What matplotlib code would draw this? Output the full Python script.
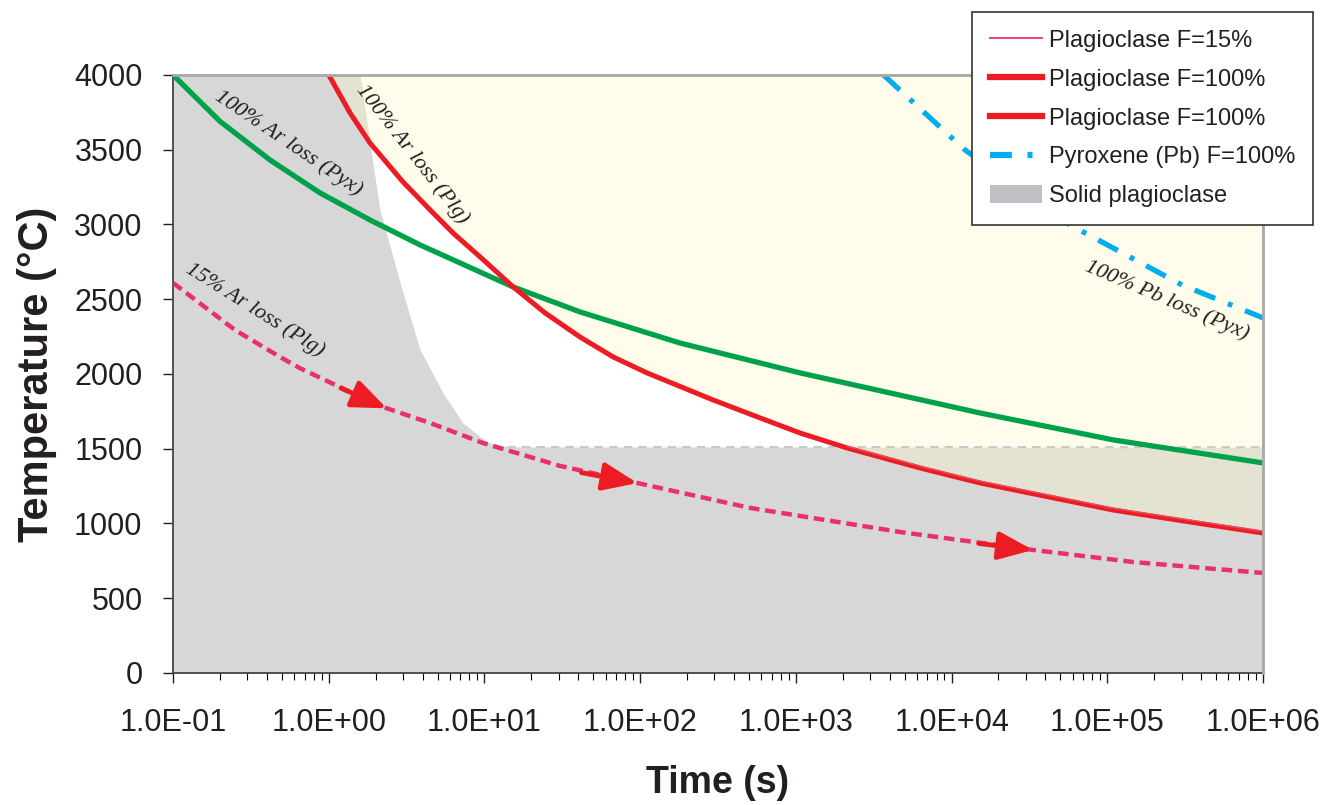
import matplotlib
matplotlib.use("Agg")
import matplotlib.pyplot as plt
from matplotlib.lines import Line2D
from matplotlib.patches import Patch

# --- data (time in s, temperature in deg C) ---
pyx_ar_t = [0.1, 0.2, 0.42, 0.879, 1.84, 3.86, 9.37, 15.3, 41.1, 180, 1064, 15240, 1.09e5, 1e6]
pyx_ar_T = [4000, 3690, 3431, 3211, 3030, 2863, 2682, 2582, 2415, 2207, 2007, 1739, 1559, 1405]

plg100_t = [1.0, 1.07, 1.37, 1.84, 3.0, 4.48, 6.28, 9.37, 15.3, 24.5, 41.1, 67, 110.6, 294,
            589, 1064, 2133, 6280, 15240, 1.09e5, 3.4e5, 1e6]
plg100_T = [4000, 3946, 3746, 3545, 3284, 3097, 2943, 2783, 2582, 2408, 2247, 2114, 2007, 1826,
            1706, 1605, 1505, 1371, 1271, 1090, 1010, 936]

plg15_t = [2133, 6280, 15240, 1.09e5, 3.4e5, 1e6]
plg15_T = [1517, 1383, 1283, 1102, 1022, 948]

plg15_ar_t = [0.1, 0.25, 0.486, 0.65, 1.37, 2.23, 4.48, 9.8, 30.6, 95.5, 508, 4670, 33300, 1.47e5, 1e6]
plg15_ar_T = [2609, 2294, 2114, 2040, 1880, 1779, 1672, 1538, 1385, 1271, 1104, 943, 823, 742, 669]

pyx_pb_t = [3650, 1.22e4, 5.77e4, 3.02e5, 1e6]
pyx_pb_T = [4000, 3498, 2997, 2595, 2375]

solid_t = [0.1, 1.59, 1.84, 2.13, 3.0, 3.86, 5.42, 7.28, 10.4, 14, 1e6]
solid_T = [4000, 4000, 3545, 3097, 2542, 2161, 1873, 1672, 1545, 1512, 1510]

arrow_tail_t = [1.2, 42, 1.5e4]
arrow_tail_T = [1905, 1340, 866]
arrow_tip_t = [2.36, 96, 3.33e4]
arrow_tip_T = [1770, 1270, 823]

xticks = [1e-1, 1e0, 1e1, 1e2, 1e3, 1e4, 1e5, 1e6]
xticklabels = ["1.0E-01", "1.0E+00", "1.0E+01", "1.0E+02", "1.0E+03", "1.0E+04", "1.0E+05", "1.0E+06"]
yticks = [0, 500, 1000, 1500, 2000, 2500, 3000, 3500, 4000]

GREEN = "#00A14B"
RED = "#ED1C24"
PINK = "#E8306A"
CYAN = "#00AEEF"
GREY = "#D7D7D7"

plt.rcParams["font.family"] = ["Liberation Sans", "DejaVu Sans"]

fig = plt.figure(figsize=(13.27, 8.05), dpi=100)
ax = fig.add_axes([0.1304, 0.164, 0.8214, 0.7429])

ax.fill_between(solid_t, 0, solid_T, color=GREY, lw=0, zorder=1)
ax.fill_between(plg100_t, plg100_T, 4000, color="#FFF7C8", alpha=0.35, lw=0, zorder=2)
ax.plot(solid_t[-2:], solid_T[-2:], color="#C8C8CC", lw=1.5, ls=(0, (4, 3)), zorder=2)

ax.plot(pyx_ar_t, pyx_ar_T, color=GREEN, lw=3.8, zorder=4, solid_joinstyle="round")
ax.plot(plg100_t, plg100_T, color=RED, lw=3.6, zorder=4, solid_joinstyle="round")
ax.plot(plg15_t, plg15_T, color="#E35060", lw=1.0, zorder=5)
ax.plot(plg15_ar_t, plg15_ar_T, color=PINK, lw=3.2, dashes=(2.4, 1.3), zorder=4)
ax.plot(pyx_pb_t, pyx_pb_T, color=CYAN, lw=3.8, dashes=(4.2, 2.6, 0.9, 2.6), zorder=4)

for t0, T0, t1, T1 in zip(arrow_tail_t, arrow_tail_T, arrow_tip_t, arrow_tip_T):
    ax.annotate("", xy=(t1, T1), xytext=(t0, T0), zorder=6,
                arrowprops=dict(arrowstyle="-|>,head_length=2.1,head_width=0.85",
                                color=RED, lw=3.5, shrinkA=0, shrinkB=0))

tkw = dict(family=["Liberation Serif", "DejaVu Serif"], style="italic", fontsize=16,
           color="#231F20", ha="center", va="center", rotation_mode="anchor", zorder=7)
ax.text(0.548, 3545, "100% Ar loss (Pyx)", rotation=-34, **tkw)
ax.text(3.43, 3472, "100% Ar loss (Plg)", rotation=-52, **tkw)
ax.text(0.336, 2428, "15% Ar loss (Plg)", rotation=-32, **tkw)
ax.text(2.42e5, 2495, "100% Pb loss (Pyx)", rotation=-23, **tkw)

ax.set_xscale("log")
ax.set_xlim(1e-1, 1e6)
ax.set_ylim(0, 4000)
ax.set_xticks(xticks)
ax.set_xticklabels(xticklabels)
ax.set_yticks(yticks)
ax.tick_params(axis="both", which="major", direction="out", length=7, width=1,
               labelsize=22, colors="#231F20")
ax.tick_params(axis="x", which="minor", direction="out", length=5, width=0.8)
ax.tick_params(axis="x", which="major", pad=18)
ax.tick_params(axis="y", which="major", pad=15)

for s in ["left", "bottom"]:
    ax.spines[s].set_color("#444444")
    ax.spines[s].set_linewidth(1.3)
for s in ["top", "right"]:
    ax.spines[s].set_color("#A8A8A8")
    ax.spines[s].set_linewidth(2)
    ax.spines[s].set_zorder(8)

ax.set_xlabel("Time (s)", fontsize=27, fontweight="bold", color="#231F20", labelpad=20)
ax.set_ylabel("Temperature (\u00b0C)", fontsize=30, fontweight="bold", color="#231F20", labelpad=12)

handles = [
    Line2D([], [], color=PINK, lw=1.3),
    Line2D([], [], color=RED, lw=4.5),
    Line2D([], [], color=RED, lw=4.5),
    Line2D([], [], color=CYAN, lw=4.5, dashes=(3.5, 2.5, 0.8, 2.5)),
    Patch(facecolor="#C0C0C4", edgecolor="none"),
]
labels = ["Plagioclase F=15%", "Plagioclase F=100%", "Plagioclase F=100%",
          "Pyroxene (Pb) F=100%", "Solid plagioclase"]
leg = fig.legend(handles, labels, loc="upper left", bbox_to_anchor=(0.7325, 0.985),
                 borderaxespad=0, fontsize=17, frameon=True, fancybox=False, framealpha=1,
                 edgecolor="#333333", handlelength=2.2, handleheight=0.8, handletextpad=0.3,
                 labelspacing=0.7, borderpad=0.75)
leg.get_frame().set_linewidth(1.2)
for txt in leg.get_texts():
    txt.set_color("#231F20")

fig.savefig("out.png", dpi=100)
